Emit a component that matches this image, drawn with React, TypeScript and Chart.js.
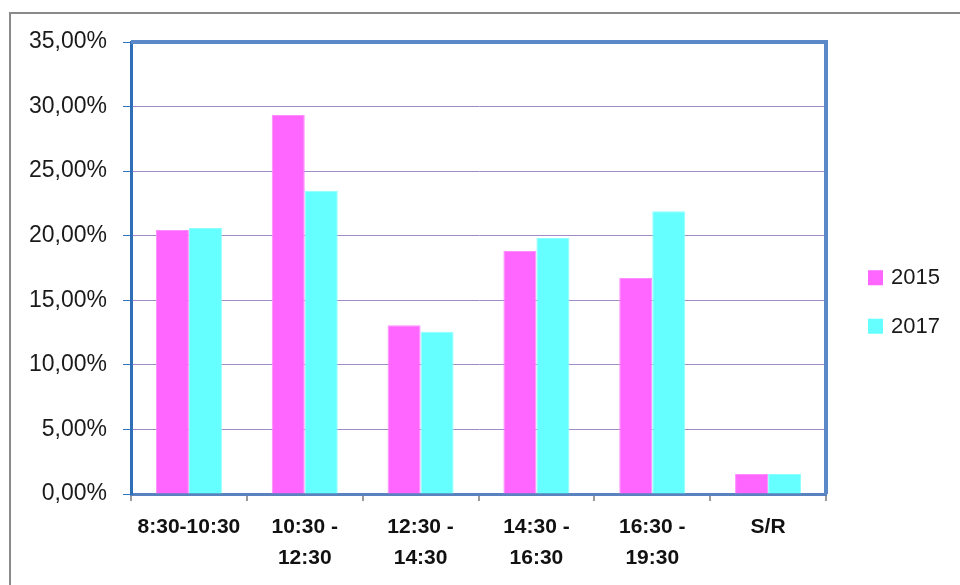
import React, { useEffect, useRef } from "react";
import { Chart, registerables } from "chart.js";

Chart.register(...registerables);

const categories: string[][] = [
  ["8:30-10:30"],
  ["10:30 -", "12:30"],
  ["12:30 -", "14:30"],
  ["14:30 -", "16:30"],
  ["16:30 -", "19:30"],
  ["S/R"],
];
const series2015: number[] = [20.44, 29.35, 13.06, 18.82, 16.73, 1.55];
const series2017: number[] = [20.6, 23.49, 12.57, 19.82, 21.89, 1.55];
const seriesLabels: string[] = ["2015", "2017"];
const seriesColors: string[] = ["#FF66FF", "#66FFFF"];
const yTicks: number[] = [0, 5, 10, 15, 20, 25, 30, 35];

const FONT = "'Liberation Sans', Arial, sans-serif";

const framePlugin = {
  id: "frame",
  afterDraw(chart: any) {
    const { ctx, chartArea } = chart;
    ctx.save();
    ctx.strokeStyle = "#5B88C6";
    ctx.lineWidth = 4;
    ctx.beginPath();
    ctx.moveTo(chartArea.left, chartArea.top);
    ctx.lineTo(chartArea.right, chartArea.top);
    ctx.lineTo(chartArea.right, chartArea.bottom);
    ctx.stroke();
    // legend
    const ds = chart.data.datasets;
    const x = chartArea.right + 42;
    const centerY = chart.height / 2 + 9;
    const gap = 48.5;
    ctx.font = `22px ${FONT}`;
    ctx.textBaseline = "middle";
    ctx.textAlign = "left";
    ds.forEach((d: any, i: number) => {
      const cy = centerY + (i - (ds.length - 1) / 2) * gap;
      ctx.fillStyle = d.backgroundColor;
      ctx.fillRect(x, cy - 7, 15, 15);
      ctx.fillStyle = "#1a1a1a";
      ctx.fillText(d.label, x + 23, cy + 1);
    });
    ctx.restore();
  },
};

export default function App() {
  const ref = useRef<HTMLCanvasElement | null>(null);
  useEffect(() => {
    document.body.style.margin = "0";
    document.body.style.overflow = "hidden";
    const canvas = ref.current!;
    const chart = new Chart(canvas, {
      type: "bar",
      data: {
        labels: categories,
        datasets: [
          {
            label: seriesLabels[0],
            data: series2015,
            backgroundColor: seriesColors[0],
            borderColor: "#FF8CFF",
            borderWidth: 1,
          },
          {
            label: seriesLabels[1],
            data: series2017,
            backgroundColor: seriesColors[1],
            borderColor: "#8CFFFF",
            borderWidth: 1,
          },
        ],
      },
      options: {
        responsive: false,
        animation: false,
        layout: { padding: { left: 0, top: 42, right: 134, bottom: 0 } },
        plugins: { legend: { display: false }, tooltip: { enabled: false } },
        datasets: { bar: { categoryPercentage: 0.57, barPercentage: 1 } },
        scales: {
          x: {
            grid: {
              offset: true,
              drawOnChartArea: false,
              drawTicks: true,
              tickLength: 7,
              tickColor: "#9a9a9a",
              lineWidth: 2,
            },
            border: { display: true, color: "#5A82BE", width: 3 },
            ticks: {
              color: "#111",
              font: { family: FONT, size: 21, weight: "bold", lineHeight: 1.48 },
              padding: 11,
              maxRotation: 0,
              autoSkip: false,
            },
            afterFit(scale: any) {
              scale.height = 91;
            },
          },
          y: {
            min: 0,
            max: 35,
            afterBuildTicks(scale: any) {
              scale.ticks = yTicks.map((v) => ({ value: v }));
            },
            ticks: {
              color: "#1a1a1a",
              font: { family: FONT, size: 23 },
              padding: 16,
              callback: (v: any) => Number(v).toFixed(2).replace(".", ",") + "%",
            },
            grid: {
              color: "#A08CC4",
              lineWidth: 1,
              drawTicks: true,
              tickLength: 8,
              tickColor: "#2E75C0",
            },
            border: { display: true, color: "#2E6FB8", width: 3 },
            afterFit(scale: any) {
              scale.width = 131;
            },
          },
        },
      },
      plugins: [framePlugin],
    } as any);
    return () => chart.destroy();
  }, []);
  return (
    <div style={{ position: "relative", width: 960, height: 585, overflow: "hidden", background: "#fff" }}>
      <div
        style={{
          position: "absolute",
          left: 9,
          top: 12,
          width: 1000,
          height: 700,
          borderLeft: "2px solid #8a8a8a",
          borderTop: "2px solid #8a8a8a",
        }}
      />
      <canvas ref={ref} width={960} height={585} style={{ position: "absolute", left: 0, top: 0 }} />
    </div>
  );
}
